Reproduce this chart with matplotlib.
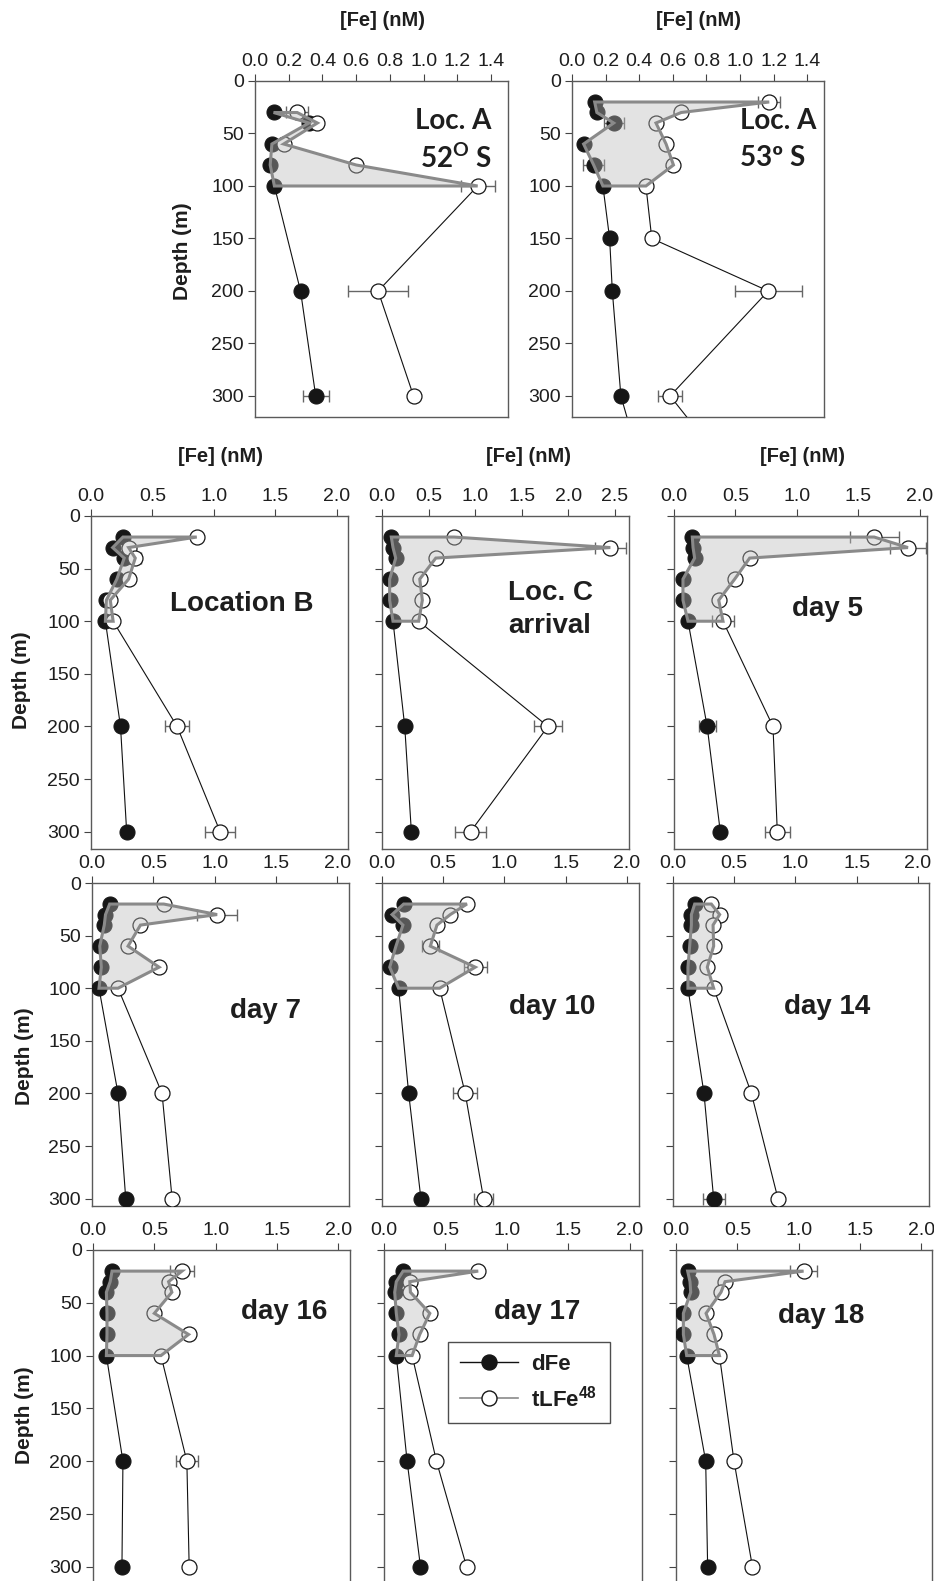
import matplotlib
matplotlib.use('Agg')
import matplotlib.pyplot as plt
from matplotlib.lines import Line2D
from matplotlib.ticker import FormatStrFormatter
import numpy as np

plt.rcParams['font.family'] = ['Liberation Sans', 'DejaVu Sans']
plt.rcParams['mathtext.fontset'] = 'custom'
plt.rcParams['mathtext.sf'] = 'Liberation Sans:bold'
plt.rcParams['mathtext.bf'] = 'Lato:bold'

# ---------------- data ----------------
depth_A52 = [30, 40, 60, 80, 100, 200, 300]
dFe_A52 = [0.11, 0.32, 0.10, 0.09, 0.115, 0.27, 0.36]
dFe_err_A52 = [0, 0, 0, 0, 0, 0, 0.077]
tLFe_A52 = [0.25, 0.37, 0.17, 0.60, 1.32, 0.73, 0.94]
tLFe_err_A52 = [0.065, 0, 0, 0, 0.10, 0.18, 0]

depth_A53 = [20, 30, 40, 60, 80, 100, 150, 200, 300, 400]
dFe_A53 = [0.135, 0.148, 0.248, 0.069, 0.129, 0.184, 0.224, 0.24, 0.291, 0.47]
dFe_err_A53 = [0, 0, 0.06, 0, 0.064, 0, 0, 0, 0, 0]
tLFe_A53 = [1.174, 0.65, 0.50, 0.56, 0.604, 0.44, 0.475, 1.168, 0.584, 1.08]
tLFe_err_A53 = [0.067, 0, 0, 0, 0, 0, 0, 0.20, 0.07, 0]

depth_std = [20, 30, 40, 60, 80, 100, 200, 300]

dFe_B = [0.26, 0.176, 0.27, 0.21, 0.125, 0.117, 0.24, 0.29]
dFe_err_B = [0, 0, 0, 0, 0, 0, 0, 0]
tLFe_B = [0.86, 0.306, 0.36, 0.306, 0.157, 0.18, 0.70, 1.05]
tLFe_err_B = [0, 0, 0.05, 0, 0, 0, 0.10, 0.12]

dFe_C = [0.10, 0.118, 0.147, 0.082, 0.082, 0.118, 0.244, 0.315]
dFe_err_C = [0, 0, 0, 0, 0, 0, 0, 0]
tLFe_C = [0.774, 2.45, 0.577, 0.405, 0.433, 0.394, 1.78, 0.95]
tLFe_err_C = [0, 0.17, 0.04, 0, 0, 0, 0.147, 0.17]

dFe_d5 = [0.149, 0.155, 0.168, 0.073, 0.073, 0.114, 0.27, 0.377]
dFe_err_d5 = [0, 0, 0, 0, 0, 0, 0.07, 0]
tLFe_d5 = [1.63, 1.905, 0.616, 0.494, 0.364, 0.399, 0.806, 0.841]
tLFe_err_d5 = [0.20, 0.147, 0, 0, 0.03, 0.088, 0, 0.10]

dFe_d7 = [0.144, 0.11, 0.10, 0.063, 0.076, 0.057, 0.212, 0.275]
dFe_err_d7 = [0, 0, 0, 0, 0, 0, 0, 0]
tLFe_d7 = [0.585, 1.02, 0.395, 0.294, 0.547, 0.212, 0.571, 0.653]
tLFe_err_d7 = [0, 0.16, 0, 0, 0, 0, 0, 0]

dFe_d10 = [0.177, 0.082, 0.171, 0.114, 0.063, 0.136, 0.218, 0.318]
dFe_err_d10 = [0, 0, 0, 0, 0, 0, 0, 0]
tLFe_d10 = [0.694, 0.558, 0.449, 0.395, 0.762, 0.471, 0.68, 0.83]
tLFe_err_d10 = [0, 0, 0, 0.07, 0.095, 0, 0.098, 0.08]

dFe_d14 = [0.177, 0.15, 0.15, 0.136, 0.122, 0.122, 0.253, 0.332]
dFe_err_d14 = [0, 0, 0, 0, 0, 0, 0, 0.09]
tLFe_d14 = [0.313, 0.381, 0.327, 0.332, 0.28, 0.332, 0.64, 0.857]
tLFe_err_d14 = [0, 0, 0, 0, 0, 0, 0, 0]

dFe_d16 = [0.155, 0.14, 0.109, 0.114, 0.114, 0.109, 0.244, 0.236]
dFe_err_d16 = [0, 0, 0, 0, 0, 0, 0, 0]
tLFe_d16 = [0.725, 0.616, 0.643, 0.50, 0.779, 0.554, 0.765, 0.784]
tLFe_err_d16 = [0.095, 0, 0, 0, 0, 0, 0.09, 0]

dFe_d17 = [0.155, 0.10, 0.087, 0.10, 0.122, 0.10, 0.188, 0.297]
dFe_err_d17 = [0, 0, 0, 0, 0, 0, 0, 0]
tLFe_d17 = [0.767, 0.21, 0.215, 0.373, 0.291, 0.229, 0.427, 0.672]
tLFe_err_d17 = [0, 0, 0, 0, 0, 0, 0, 0]

dFe_d18 = [0.095, 0.114, 0.12, 0.06, 0.06, 0.087, 0.242, 0.258]
dFe_err_d18 = [0, 0, 0, 0, 0, 0, 0, 0]
tLFe_d18 = [1.04, 0.40, 0.367, 0.245, 0.31, 0.354, 0.473, 0.623]
tLFe_err_d18 = [0.11, 0, 0, 0, 0, 0, 0, 0]

depth_ticks = [0, 50, 100, 150, 200, 250, 300]
fe_ticks_top = [0.0, 0.2, 0.4, 0.6, 0.8, 1.0, 1.2, 1.4]
fe_ticks = [0.0, 0.5, 1.0, 1.5, 2.0]
fe_ticks_C = [0.0, 0.5, 1.0, 1.5, 2.0, 2.5]

# ---------------- figure ----------------
W, H = 934, 1581
fig = plt.figure(figsize=(W / 100, H / 100), dpi=100)
TXT = '#1e1e1e'


def add_ax(l, r, t, b):
    return fig.add_axes([l / W, 1 - b / H, (r - l) / W, (b - t) / H])


def style(ax, xlim, ylim, xticks, show_ylabels, xfmt='%.1f'):
    ax.set_xlim(*xlim)
    ax.set_ylim(ylim[1], ylim[0])
    ax.set_xticks(xticks)
    ax.set_yticks(depth_ticks)
    ax.xaxis.set_major_formatter(FormatStrFormatter(xfmt))
    ax.xaxis.set_ticks_position('top')
    ax.xaxis.set_label_position('top')
    ax.yaxis.set_ticks_position('left')
    ax.tick_params(axis='both', direction='out', length=5, width=0.8,
                   colors='#444', labelcolor=TXT, labelsize=14, pad=3)
    if not show_ylabels:
        ax.set_yticklabels([])
    for s in ax.spines.values():
        s.set_color('#5a5a5a')
        s.set_linewidth(1.0)


def draw(ax, depth, dfe, dfe_err, tlfe, tlfe_err):
    depth = np.asarray(depth, float)
    dfe = np.asarray(dfe, float)
    tlfe = np.asarray(tlfe, float)
    dfe_err = np.asarray(dfe_err, float)
    tlfe_err = np.asarray(tlfe_err, float)
    for x, e in ((dfe, dfe_err), (tlfe, tlfe_err)):
        m = e > 0
        if m.any():
            ax.errorbar(x[m], depth[m], xerr=e[m], fmt='none', ecolor='#666666',
                        elinewidth=1.0, capsize=4, capthick=1.0, zorder=2)
    ax.plot(dfe, depth, '-', color='#111111', lw=0.8, zorder=3)
    ax.plot(tlfe, depth, '-', color='#111111', lw=0.8, zorder=3)
    ax.plot(dfe, depth, 'o', ms=10.8, mfc='#161616', mec='#161616', mew=0.8, zorder=4)
    ax.plot(tlfe, depth, 'o', ms=10.8, mfc='white', mec='#161616', mew=0.9, zorder=4)
    k = int(np.sum(depth <= 100))
    px = np.concatenate([dfe[:k], tlfe[:k][::-1]])
    py = np.concatenate([depth[:k], depth[:k][::-1]])
    ax.fill(px, py, facecolor='#b9b9b9', alpha=0.4, edgecolor='none', zorder=5)
    ax.fill(px, py, facecolor='none', edgecolor='#8a8a8a', lw=2.2, zorder=6)


def ftext(x, y, s, **kw):
    fig.text(x / W, 1 - y / H, s, **kw)


# top row
ax = add_ax(255, 508, 81, 417)
style(ax, (0, 1.5), (0, 320), fe_ticks_top, True)
draw(ax, depth_A52, dFe_A52, dFe_err_A52, tLFe_A52, tLFe_err_A52)
ax = add_ax(572, 824, 81, 417)
style(ax, (0, 1.5), (0, 320), fe_ticks_top, True)
draw(ax, depth_A53, dFe_A53, dFe_err_A53, tLFe_A53, tLFe_err_A53)

# row 2
ax = add_ax(91, 348, 516, 848.5)
style(ax, (0, 2.09), (0, 316), fe_ticks, True)
draw(ax, depth_std, dFe_B, dFe_err_B, tLFe_B, tLFe_err_B)
ax = add_ax(382, 629, 516, 848.5)
style(ax, (0, 2.65), (0, 316), fe_ticks_C, False)
draw(ax, depth_std, dFe_C, dFe_err_C, tLFe_C, tLFe_err_C)
ax = add_ax(674, 927, 516, 848.5)
style(ax, (0, 2.06), (0, 316), fe_ticks, False)
draw(ax, depth_std, dFe_d5, dFe_err_d5, tLFe_d5, tLFe_err_d5)

# row 3
ax = add_ax(92, 349, 883, 1206)
style(ax, (0, 2.095), (0, 307), fe_ticks, True)
draw(ax, depth_std, dFe_d7, dFe_err_d7, tLFe_d7, tLFe_err_d7)
ax = add_ax(382, 639, 883, 1206)
style(ax, (0, 2.1), (0, 307), fe_ticks, False)
draw(ax, depth_std, dFe_d10, dFe_err_d10, tLFe_d10, tLFe_err_d10)
ax = add_ax(673, 929, 883, 1206)
style(ax, (0, 2.09), (0, 307), fe_ticks, False)
draw(ax, depth_std, dFe_d14, dFe_err_d14, tLFe_d14, tLFe_err_d14)

# row 4 (cut at the bottom of the figure)
ax = add_ax(93, 350, 1250, 1583.6)
style(ax, (0, 2.095), (0, 316), fe_ticks, True)
draw(ax, depth_std, dFe_d16, dFe_err_d16, tLFe_d16, tLFe_err_d16)
ax17 = add_ax(384, 642, 1250, 1583.6)
style(ax17, (0, 2.1), (0, 316), fe_ticks, False)
draw(ax17, depth_std, dFe_d17, dFe_err_d17, tLFe_d17, tLFe_err_d17)
ax = add_ax(676, 932, 1250, 1583.6)
style(ax, (0, 2.087), (0, 316), fe_ticks, False)
draw(ax, depth_std, dFe_d18, dFe_err_d18, tLFe_d18, tLFe_err_d18)

# axis titles
for (x, y) in [(382, 20), (698, 20), (220, 456), (529, 456), (802, 456)]:
    ftext(x, y, '[Fe] (nM)', ha='center', va='center', fontsize=14.5,
          fontweight='bold', color=TXT)
for (x, y) in [(182, 251), (22, 680), (24, 1056), (24, 1415)]:
    ftext(x, y, 'Depth (m)', ha='center', va='center', rotation=90,
          fontsize=15, fontweight='bold', color=TXT)

# panel labels
cal = dict(family=['Lato', 'DejaVu Sans'], fontweight='bold', fontsize=20, color=TXT)
ftext(415, 121, 'Loc. A', ha='left', va='center', **cal)
ftext(420, 158, r'52$^{\mathbf{O}}$ S', ha='left', va='center', **cal)
ftext(740, 121, 'Loc. A', ha='left', va='center', **cal)
ftext(740, 158, '53º S', ha='left', va='center', **cal)

ari = dict(fontweight='bold', fontsize=20, color=TXT, ha='center', va='center')
ftext(242, 604, 'Location B', **ari)
ftext(550, 593, 'Loc. C', **ari)
ftext(550, 626, 'arrival', **ari)
ftext(827, 609, 'day 5', **ari)
ftext(265, 1011, 'day 7', **ari)
ftext(552, 1007, 'day 10', **ari)
ftext(827, 1007, 'day 14', **ari)
ftext(284, 1312, 'day 16', **ari)
ftext(537, 1312, 'day 17', **ari)
ftext(821, 1316, 'day 18', **ari)

# legend
handles = [
    Line2D([], [], color='#111111', lw=1.0, marker='o', ms=10.8,
           mfc='#161616', mec='#161616'),
    Line2D([], [], color='#8a8a8a', lw=1.2, marker='o', ms=10.8,
           mfc='white', mec='#161616'),
]
leg = ax17.legend(handles, ['dFe', r'tLFe$^{\mathsf{48}}$'],
                  loc='upper left', bbox_to_anchor=(448 / W, 1 - 1342 / H),
                  bbox_transform=fig.transFigure, borderaxespad=0,
                  fancybox=False, frameon=True, handlelength=2.6,
                  handletextpad=0.6, labelspacing=0.45, borderpad=0.55,
                  prop={'weight': 'bold', 'size': 16})
leg.get_frame().set_edgecolor('#222222')
leg.get_frame().set_linewidth(1.0)
for t in leg.get_texts():
    t.set_color(TXT)

fig.savefig('out.png', dpi=100)
